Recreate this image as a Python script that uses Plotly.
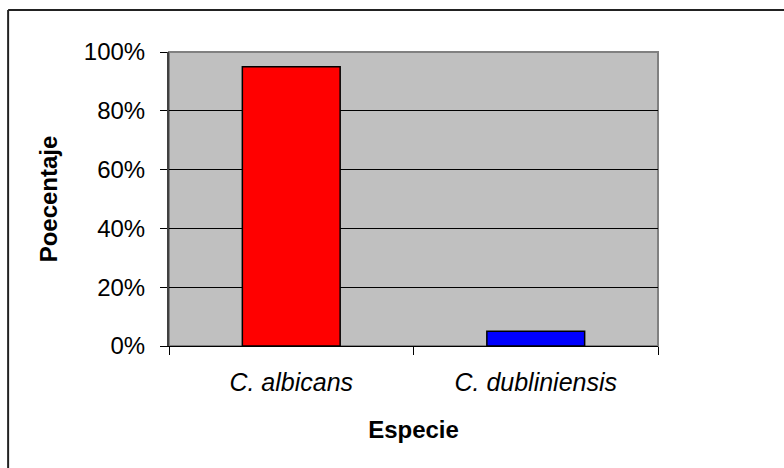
import plotly.graph_objects as go

# Species distribution (percent of isolates)
especies = ["C. albicans", "C. dubliniensis"]
porcentajes = [95, 5]
colores = ["#FF0000", "#0000FF"]
y_ticks = [0, 20, 40, 60, 80, 100]
y_tick_text = ["0%", "20%", "40%", "60%", "80%", "100%"]

FONT = "Liberation Sans, Arial, sans-serif"

fig = go.Figure(
    go.Bar(
        x=especies,
        y=porcentajes,
        marker=dict(color=colores, line=dict(color="#000000", width=1.5)),
        width=0.4,
    )
)

fig.update_layout(
    width=784,
    height=468,
    margin=dict(l=169, r=126, t=52, b=122),
    paper_bgcolor="#FFFFFF",
    plot_bgcolor="#C0C0C0",
    showlegend=False,
    font=dict(family=FONT, color="#000000", size=24),
    shapes=[
        # plot-area frame
        dict(type="rect", xref="paper", yref="paper", x0=0, x1=1, y0=0, y1=1,
             line=dict(color="#808080", width=2), layer="below"),
        # chart-area frame (top and left edges)
        dict(type="line", xref="paper", yref="paper", x0=-0.329, x1=1.3,
             y0=1.143, y1=1.143, line=dict(color="#222222", width=2)),
        dict(type="line", xref="paper", yref="paper", x0=-0.329, x1=-0.329,
             y0=1.143, y1=-0.5, line=dict(color="#222222", width=2)),
    ],
)

fig.update_xaxes(
    tickfont=dict(family=FONT, size=25, style="italic"),
    tickson="boundaries",
    ticks="outside",
    ticklen=8,
    tickcolor="#000000",
    showline=True,
    linecolor="#000000",
    linewidth=1,
    showgrid=False,
    ticklabelstandoff=14,
    title=dict(text="<b>Especie</b>", font=dict(family=FONT, size=24), standoff=26),
)

fig.update_yaxes(
    range=[0, 100],
    tickvals=y_ticks,
    ticktext=y_tick_text,
    ticks="outside",
    ticklen=7,
    tickcolor="#000000",
    ticklabelstandoff=10,
    showline=True,
    linecolor="#404040",
    linewidth=2,
    showgrid=True,
    gridcolor="#000000",
    gridwidth=1,
    zeroline=False,
    tickfont=dict(family=FONT, size=24),
    title=dict(text="<b>Poecentaje</b>", font=dict(family=FONT, size=24), standoff=19),
)

fig.write_html("out.html")
